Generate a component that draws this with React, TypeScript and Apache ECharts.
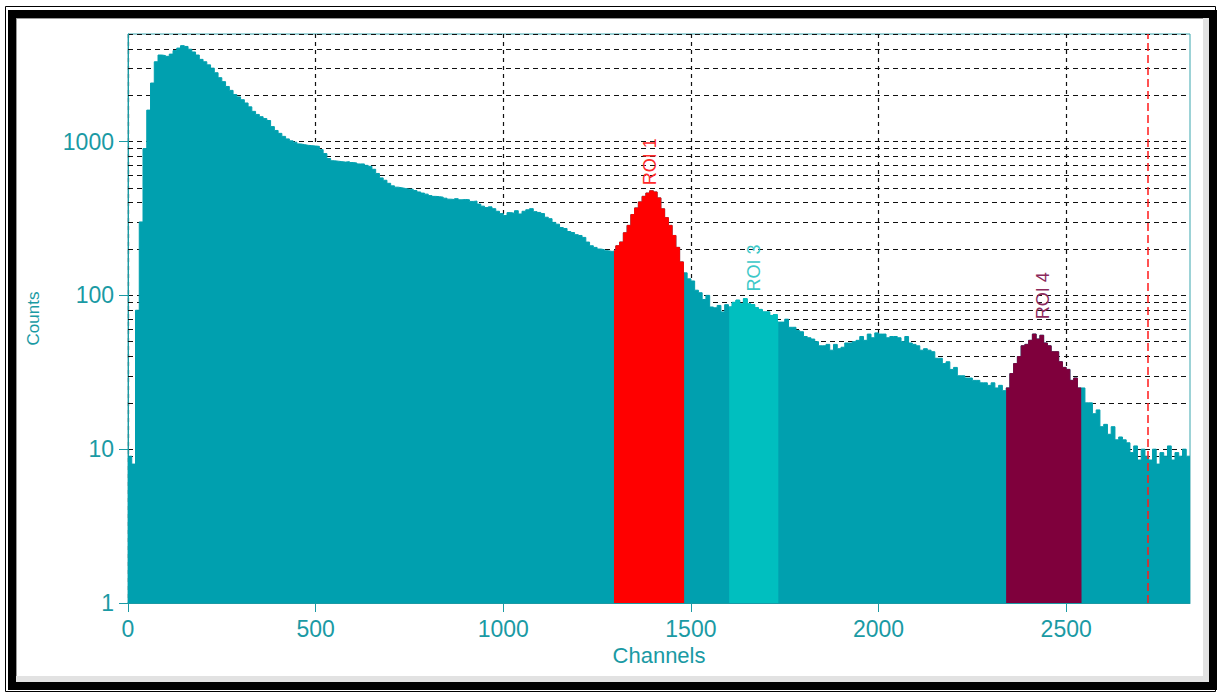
import React, { useEffect, useRef } from "react";
import * as echarts from "echarts";

// Spectrum counts in 10-channel bins (bin i covers channels 10*i .. 10*i+9)
const binWidth = 10;
const counts: number[] = [
  // 0
  9, 8, 80, 300, 900, 1600, 2400, 3300, 3650, 3620,
  // 100
  3580, 3700, 3900, 4050, 4200, 4150, 3980, 3820, 3650, 3420,
  // 200
  3300, 3150, 3000, 2800, 2600, 2450, 2280, 2150, 2020, 1950,
  // 300
  1870, 1780, 1680, 1570, 1500, 1450, 1410, 1370, 1250, 1180,
  // 400
  1130, 1080, 1040, 1010, 990, 965, 955, 945, 940, 935,
  // 500
  930, 885, 835, 775, 750, 745, 740, 735, 740, 730,
  // 600
  725, 715, 715, 700, 690, 660, 620, 580, 560, 535,
  // 700
  515, 505, 500, 495, 490, 490, 480, 470, 462, 455,
  // 800
  445, 440, 438, 435, 428, 422, 420, 425, 418, 420,
  // 900
  418, 408, 410, 392, 380, 372, 376, 366, 352, 340,
  // 1000
  330, 345, 342, 355, 338, 352, 360, 366, 350, 346,
  // 1100
  340, 322, 315, 298, 290, 276, 272, 260, 256, 248,
  // 1200
  245, 238, 222, 210, 205, 200, 198, 195, 193, 195,
  // 1300
  210, 222, 255, 285, 335, 370, 405, 440, 462, 478,
  // 1400
  470, 430, 365, 320, 285, 245, 205, 165, 140, 128,
  // 1500
  124, 108, 104, 94, 100, 84, 83, 86, 78, 87,
  // 1600
  84, 90, 93, 88, 95, 88, 87, 83, 81, 78,
  // 1700
  78, 74, 75, 67, 67, 70, 62, 62, 59, 58,
  // 1800
  54, 53, 52, 50, 47, 47, 48, 44, 48, 45,
  // 1900
  46, 49, 49, 50, 51, 54, 51, 56, 53, 57,
  // 2000
  56, 56, 53, 54, 54, 53, 50, 54, 49, 48,
  // 2100
  47, 44, 45, 44, 43, 39, 39, 36, 37, 33,
  // 2200
  34, 30, 30, 29, 29, 28, 28, 27, 27, 26,
  // 2300
  27, 25, 26, 24, 25, 31, 36, 40, 47, 48,
  // 2400
  51, 56, 52, 55, 49, 47, 43, 43, 37, 34,
  // 2500
  33, 28, 29, 25, 25, 20, 20, 17, 18, 14,
  // 2600
  14.5, 12.5, 14, 11.5, 12, 11.5, 11, 9.5, 10.5, 8.5,
  // 2700
  10, 9, 8.5, 10, 8, 9.5, 9, 10.5, 8.5, 9.5,
  // 2800
  9, 10, 9,
];

// Regions of interest
const roiNames = ["ROI 1", "ROI 3", "ROI 4"];
const roiStart = [1295, 1602, 2340];
const roiEnd = [1482, 1733, 2541];
const roiColors = ["#ff0000", "#00bfbf", "#7f003c"];
const roiLabelColors = ["#ff2a2a", "#3cc8c8", "#8c2a5c"];
const roiLabelAt: [number, number][] = [
  [1391, 520],
  [1668, 106],
  [2439, 70],
];

// Axis structure
const xMax = 2830;
const xTicks = [0, 500, 1000, 1500, 2000, 2500];
const yMin = 1;
const yMax = 5000;
const mantissas = [2, 3, 4, 5, 6, 7, 8, 9];
const decades = [1, 10, 100, 1000];
const cursorChannel = 2718;

const TEAL = "#00a0af";
const AXIS = "#1a9aa4";
const GRID = "#111";
const FONT = 'Arial, "Liberation Sans", sans-serif';

function valueAt(ch: number) {
  const i = Math.min(counts.length - 1, Math.floor(ch / binWidth));
  return counts[i];
}

function roiPoints(start: number, end: number) {
  const pts: [number, number][] = [[start, valueAt(start)]];
  counts.forEach((v, i) => {
    const x = i * binWidth;
    if (x > start && x < end) pts.push([x, v]);
  });
  pts.push([end, valueAt(end - 1)]);
  return pts;
}

export default function App() {
  const ref = useRef<HTMLDivElement>(null);
  useEffect(() => {
    if (!ref.current) return;
    const chart = echarts.init(ref.current, undefined, { renderer: "svg" });

    const basePoints: [number, number][] = counts.map((v, i) => [i * binWidth, v]);
    basePoints.push([counts.length * binWidth, counts[counts.length - 1]]);

    const minorGrid: number[] = [];
    decades.forEach((d) =>
      mantissas.forEach((m) => {
        const v = m * d;
        if (v < yMax) minorGrid.push(v);
      })
    );

    const roiSeries = roiNames.map((name, k) => ({
      type: "line",
      name,
      step: "end",
      symbol: "none",
      z: 3,
      data: roiPoints(roiStart[k], roiEnd[k]),
      lineStyle: { color: roiColors[k], width: 1 },
      itemStyle: { color: roiColors[k] },
      areaStyle: { color: roiColors[k], opacity: 1, origin: "start" },
      markPoint: {
        symbol: "circle",
        symbolSize: 0,
        silent: true,
        data: [{ coord: roiLabelAt[k] }],
        label: {
          show: true,
          formatter: name,
          position: "inside",
          rotate: 90,
          align: "left",
          verticalAlign: "middle",
          color: roiLabelColors[k],
          fontSize: 18,
          fontFamily: FONT,
        },
      },
      ...(k === 2
        ? {
            markLine: {
              silent: true,
              symbol: "none",
              z: 10,
              label: { show: false },
              lineStyle: { color: "#ff1a1a", type: [8, 4], width: 1.5 },
              data: [{ xAxis: cursorChannel }],
            },
          }
        : {}),
    }));

    chart.setOption({
      animation: false,
      grid: {
        left: 128,
        right: 28,
        top: 34,
        bottom: 91,
        show: true,
        borderColor: "#3aa6ae",
        borderWidth: 1,
        backgroundColor: "#ffffff",
      },
      graphic: [
        {
          type: "rect",
          silent: true,
          shape: { x: 5.5, y: 6.5, width: 1210, height: 685 },
          style: { fill: "none", stroke: "#000", lineWidth: 1 },
        },
        {
          type: "rect",
          silent: true,
          shape: { x: 12, y: 14, width: 1201, height: 672 },
          style: { fill: "none", stroke: "#000", lineWidth: 8 },
        },
        {
          type: "rect",
          silent: true,
          shape: { x: 1203, y: 18, width: 6, height: 664 },
          style: { fill: "#e2e2e2" },
        },
        {
          type: "rect",
          silent: true,
          shape: { x: 16, y: 676, width: 1193, height: 6 },
          style: { fill: "#e2e2e2" },
        },
        {
          type: "line",
          silent: true,
          shape: { x1: 16, y1: 18.5, x2: 1203, y2: 18.5 },
          style: { stroke: "#9a9a9a", lineWidth: 1 },
        },
        {
          type: "line",
          silent: true,
          shape: { x1: 16.5, y1: 18, x2: 16.5, y2: 676 },
          style: { stroke: "#9a9a9a", lineWidth: 1 },
        },
      ],
      xAxis: {
        type: "value",
        min: 0,
        max: xMax,
        interval: 500,
        name: "Channels",
        nameLocation: "middle",
        nameGap: 36,
        nameTextStyle: { color: AXIS, fontSize: 22, fontFamily: FONT },
        axisLine: { show: true, lineStyle: { color: AXIS, width: 1 } },
        axisTick: { show: true, length: 9, lineStyle: { color: AXIS }, customValues: xTicks },
        axisLabel: {
          color: AXIS,
          fontSize: 23,
          fontFamily: FONT,
          margin: 14,
          customValues: xTicks,
          formatter: (v: number) => String(v),
        },
        splitLine: { show: true, lineStyle: { color: GRID, type: [4, 4], width: 1.2 } },
      },
      yAxis: {
        type: "log",
        logBase: 10,
        min: yMin,
        max: yMax,
        name: "Counts",
        nameLocation: "middle",
        nameGap: 86,
        nameTextStyle: { color: AXIS, fontSize: 17, fontFamily: FONT },
        axisLine: { show: true, lineStyle: { color: AXIS, width: 1 } },
        axisTick: { show: true, length: 9, lineStyle: { color: AXIS } },
        axisLabel: {
          color: AXIS,
          fontSize: 23,
          fontFamily: FONT,
          margin: 14,
          showMaxLabel: false,
          formatter: (v: number) => String(v),
        },
        splitLine: { show: true, lineStyle: { color: GRID, type: [5, 4], width: 1.2 } },
      },
      series: [
        {
          type: "line",
          name: "Spectrum",
          step: "end",
          symbol: "none",
          z: 2,
          data: basePoints,
          lineStyle: { color: TEAL, width: 1 },
          itemStyle: { color: TEAL },
          areaStyle: { color: TEAL, opacity: 1, origin: "start" },
          markLine: {
            silent: true,
            symbol: "none",
            z: 1,
            label: { show: false },
            lineStyle: { color: GRID, type: [5, 4], width: 1.2 },
            data: minorGrid.map((v) => ({ yAxis: v })),
          },
        },
        ...roiSeries,
      ],
    });
    return () => chart.dispose();
  }, []);

  return (
    <div
      ref={ref}
      style={{ position: "absolute", left: 0, top: 0, width: 1218, height: 694 }}
    />
  );
}
